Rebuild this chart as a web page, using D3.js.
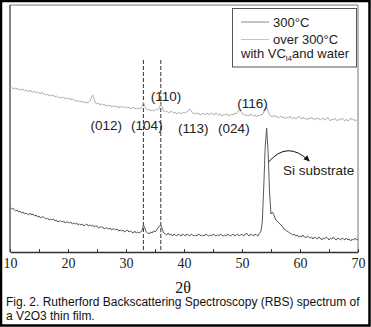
<!DOCTYPE html>
<html>
<head>
<meta charset="utf-8">
<script src="https://cdn.jsdelivr.net/npm/d3@7"></script>
<style>
  html, body { margin: 0; padding: 0; background: #fff; }
  svg { display: block; }
</style>
</head>
<body>
<svg id="chart" width="371" height="327"></svg>
<script>
// 2θ grid (degrees), step 0.25 from 10 to 70
const twoTheta = d3.range(241).map(i => 10 + i * 0.25);

// Diffraction intensity (a.u.), film grown at 300°C
const int300 = [
  44, 43, 44, 42,  41, 42, 40, 41,  39, 40, 38, 39,  38, 37, 39, 37,
  38, 36, 37, 35,  36, 34, 35, 35,  34, 33, 34, 32,  33, 32, 33, 31,
  32, 30, 31, 31,  30, 31, 29, 30,  30, 29, 30, 28,  29, 28, 29, 27,
  28, 27, 28, 26,  27, 28, 26, 27,  26, 27, 25, 26,  26, 24, 25, 25,
  25, 23, 24, 24,  23, 24, 22, 23,  23, 22, 23, 21,  22, 21, 22, 20,
  21, 22, 20, 21,  20, 19, 21, 19,  20, 19, 20, 21,  27, 24, 20, 19,
  18, 20, 19, 21,  20, 22, 24, 26,  27, 23, 19, 18,  17, 19, 17, 18,
  16, 18, 17, 16,  18, 17, 16, 18,  17, 16, 18, 17,  16, 18, 17, 16,
  17, 16, 18, 17,  16, 17, 16, 18,  17, 16, 17, 16,  18, 17, 16, 17,
  16, 18, 17, 16,  17, 16, 18, 17,  16, 17, 18, 16,  17, 18, 16, 17,
  18, 16, 17, 19,  17, 16, 18, 17,  16, 18, 17, 16,  19, 20, 30, 65,
  105, 124, 100, 60, 38, 40, 37, 33, 31, 30, 28, 27,  25, 23, 22, 21,
  20, 19, 18, 17,  18, 16, 17, 15,  16, 15, 17, 15,  14, 16, 15, 14,
  15, 13, 15, 14,  13, 15, 14, 12,  14, 13, 15, 14,  12, 14, 13, 15,
  13, 12, 14, 13,  12, 14, 13, 12,  14, 12, 13, 11,  13, 12, 14, 12,
  13
];

// Diffraction intensity (a.u.), film grown over 300°C with VCl4 and water
const intOver300 = [
  164, 165, 163, 164,  163, 164, 162, 163,  162, 163, 161, 162,  161, 160, 162, 160,
  160, 161, 159, 160,  159, 158, 160, 158,  158, 157, 158, 156,  157, 156, 157, 155,
  156, 155, 154, 155,  154, 155, 153, 154,  153, 154, 152, 153,  152, 151, 152, 150,
  151, 150, 151, 149,  150, 149, 150, 151,  154, 157, 153, 149,  148, 149, 147, 148,
  147, 148, 146, 147,  146, 147, 145, 146,  146, 145, 146, 144,  145, 146, 144, 145,
  145, 144, 145, 143,  144, 145, 143, 144,  143, 144, 143, 145,  150, 146, 143, 142,
  143, 141, 142, 141,  142, 143, 142, 144,  148, 145, 141, 140,  141, 140, 139, 141,
  140, 139, 140, 138,  139, 140, 138, 139,  140, 139, 140, 142,  143, 141, 139, 138,
  139, 138, 139, 137,  138, 139, 137, 138,  139, 137, 138, 139,  138, 137, 139, 138,
  137, 138, 136, 137,  138, 137, 138, 136,  137, 138, 137, 139,  138, 140, 142, 141,
  139, 137, 138, 136,  137, 136, 138, 137,  136, 137, 135, 137,  136, 138, 137, 140,
  144, 145, 141, 137,  136, 135, 137, 135,  136, 134, 135, 136,  134, 135, 133, 135,
  134, 136, 134, 133,  135, 133, 134, 136,  134, 133, 135, 133,  134, 132, 134, 133,
  135, 133, 132, 134,  133, 134, 132, 133,  134, 132, 133, 135,  133, 131, 133, 132,
  134, 132, 131, 133,  132, 134, 132, 131,  133, 131, 132, 134,  132, 133, 131, 132,
  133
];

// Axis ticks
const majorTicks = [10, 20, 30, 40, 50, 60, 70];
const allTicks = [10, 15, 20, 25, 30, 35, 40, 45, 50, 55, 60, 65, 70];

// Reference peak positions (dashed guides)
const guideAngles = [33, 36];

// Miller-index annotations: label, 2θ anchor, intensity anchor
const peakLabels = ["(110)", "(116)", "(012)", "(104)", "(113)", "(024)"];
const peakLabelX = [36.9, 51.8, 26.6, 33.6, 41.6, 48.6];
const peakLabelY = [151, 144, 122, 122, 119, 119];

const legendLabels = ["300°C", "over 300°C"];
const seriesColors = ["#8a8a8a", "#c4c4c4"];

const svg = d3.select("#chart");
const W = 371, H = 327;

// outer figure border
svg.append("rect")
  .attr("x", 1).attr("y", 1).attr("width", W - 2.5).attr("height", H - 2.5)
  .attr("fill", "#fff").attr("stroke", "#000").attr("stroke-width", 2.5);

const plotLeft = 10, plotRight = 358, plotTop = 5, plotBottom = 252;
const x = d3.scaleLinear().domain([10, 70]).range([plotLeft, plotRight]);
const y = d3.scaleLinear().domain([0, 247]).range([plotBottom, plotTop]);

// plot frame
svg.append("line").attr("x1", plotLeft).attr("x2", plotRight).attr("y1", plotTop).attr("y2", plotTop)
  .attr("stroke", "#777").attr("stroke-width", 1);
svg.append("line").attr("x1", plotRight).attr("x2", plotRight).attr("y1", plotTop).attr("y2", plotBottom)
  .attr("stroke", "#777").attr("stroke-width", 1);
svg.append("line").attr("x1", plotLeft).attr("x2", plotLeft).attr("y1", plotTop).attr("y2", plotBottom)
  .attr("stroke", "#666").attr("stroke-width", 1.6);

// dashed guides at 33° and 36°
svg.append("g").selectAll("line").data(guideAngles).join("line")
  .attr("x1", d => x(d)).attr("x2", d => x(d))
  .attr("y1", 60).attr("y2", plotBottom)
  .attr("stroke", "#333").attr("stroke-width", 1)
  .attr("stroke-dasharray", "4,2");

// spectra
const line = d3.line().x((d, i) => x(twoTheta[i])).y(d => y(d));
svg.append("path").datum(intOver300)
  .attr("d", line).attr("fill", "none")
  .attr("stroke", "#b0b0b0").attr("stroke-width", 1);
svg.append("path").datum(int300)
  .attr("d", line).attr("fill", "none")
  .attr("stroke", "#5a5a5a").attr("stroke-width", 1);

// bottom axis with inward ticks
const xAxis = d3.axisBottom(x)
  .tickValues(allTicks)
  .tickSizeInner(-3).tickSizeOuter(0).tickPadding(6)
  .tickFormat(d => majorTicks.includes(d) ? d : "");
const gx = svg.append("g").attr("transform", `translate(0,${plotBottom})`).call(xAxis);
gx.select(".domain").attr("stroke", "#333").attr("stroke-width", 1.5);
gx.selectAll(".tick line").attr("stroke", "#333").attr("stroke-width", 1);
gx.selectAll(".tick text")
  .attr("font-family", "'Liberation Serif', 'Times New Roman', serif")
  .attr("font-size", 14).attr("fill", "#222");

// axis title
svg.append("text")
  .attr("x", 183).attr("y", 293).attr("text-anchor", "middle")
  .attr("font-family", "'Liberation Serif', 'Times New Roman', serif")
  .attr("font-size", 16).attr("fill", "#111")
  .text("2θ");

// peak labels
const sans = "'Liberation Sans', Arial, sans-serif";
svg.append("g").selectAll("text").data(peakLabels).join("text")
  .attr("x", (d, i) => x(peakLabelX[i]))
  .attr("y", (d, i) => y(peakLabelY[i]))
  .attr("text-anchor", "middle")
  .attr("font-family", sans).attr("font-size", 13.5).attr("fill", "#222")
  .text(d => d);

// Si substrate annotation with curved arrow
svg.append("defs").append("marker")
  .attr("id", "arrowhead").attr("viewBox", "0 0 10 10")
  .attr("refX", 8).attr("refY", 5)
  .attr("markerWidth", 7).attr("markerHeight", 7)
  .attr("orient", "auto")
  .append("path").attr("d", "M0,1 L9,5 L0,9 Z").attr("fill", "#111");
svg.append("path")
  .attr("d", `M${x(54.6)},162 Q${x(57.8)},140 ${x(61.6)},161`)
  .attr("fill", "none").attr("stroke", "#111").attr("stroke-width", 1)
  .attr("marker-end", "url(#arrowhead)");
svg.append("text")
  .attr("x", 283).attr("y", 175)
  .attr("font-family", sans).attr("font-size", 13.5).attr("fill", "#222")
  .text("Si substrate");

// legend
const lg = svg.append("g");
lg.append("rect").attr("x", 232.5).attr("y", 8.5).attr("width", 124).attr("height", 58.5)
  .attr("fill", "#fff").attr("stroke", "#555").attr("stroke-width", 1);
const legendY = [22, 39.5];
legendLabels.forEach((lab, i) => {
  lg.append("line").attr("x1", 241).attr("x2", 269)
    .attr("y1", legendY[i]).attr("y2", legendY[i])
    .attr("stroke", seriesColors[i]).attr("stroke-width", 1);
  lg.append("text").attr("x", 273).attr("y", legendY[i] + 4.5)
    .attr("font-family", sans).attr("font-size", 13).attr("fill", "#222")
    .text(lab);
});
const t3 = lg.append("text").attr("x", 241).attr("y", 58)
  .attr("font-family", sans).attr("font-size", 13).attr("fill", "#222");
t3.append("tspan").text("with VC");
t3.append("tspan").attr("font-size", 8).attr("dy", 3).text("l4");
t3.append("tspan").attr("dy", -3).text("and water");

// caption
const cap = svg.append("text")
  .attr("font-family", sans).attr("font-size", 12).attr("fill", "#111");
cap.append("tspan").attr("x", 6).attr("y", 305.5)
  .text("Fig. 2. Rutherford Backscattering Spectroscopy (RBS) spectrum of");
cap.append("tspan").attr("x", 6).attr("y", 320)
  .text("a V2O3 thin film.");
</script>
</body>
</html>
